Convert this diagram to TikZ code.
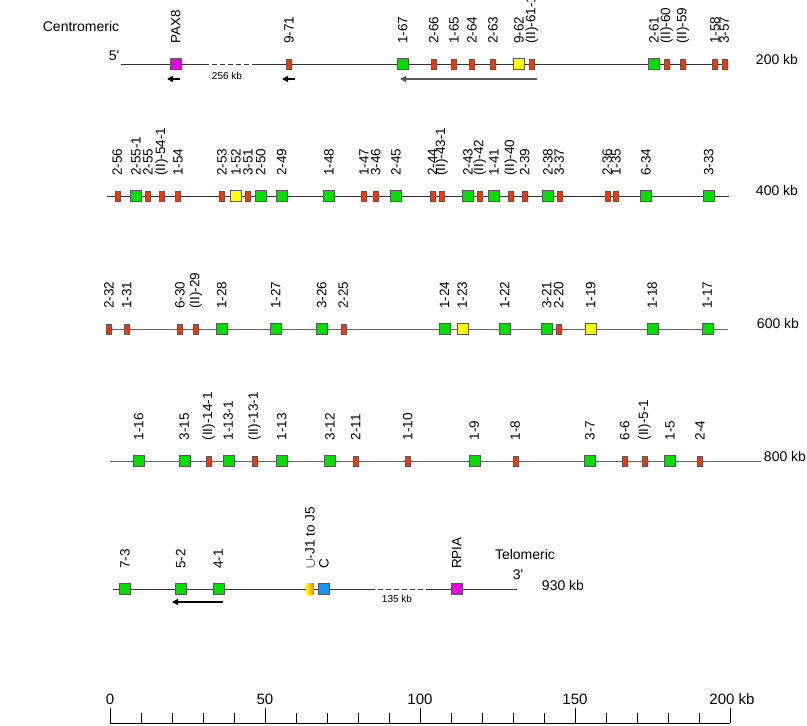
\documentclass[tikz,border=0pt]{standalone}
\usepackage{fontspec}
\setmainfont{Liberation Sans}
\usetikzlibrary{arrows.meta}
\definecolor{funcgreen}{RGB}{0,224,0}
\definecolor{pseudored}{RGB}{255,51,0}
\definecolor{orfyellow}{RGB}{255,255,0}
\definecolor{markmag}{RGB}{230,0,230}
\definecolor{cblue}{RGB}{20,150,255}
\definecolor{jorange}{RGB}{255,90,0}
\newcommand\labfont{\fontsize{13.5}{14}\selectfont}
\newcommand\sidefont{\fontsize{14}{15}\selectfont}
\newcommand\scalefont{\fontsize{15}{16}\selectfont}
\newcommand\gapfont{\fontsize{10}{11}\selectfont}
\tikzstyle{gene} = [draw=black!65, line width=0.5pt, inner sep=0pt, minimum width=11pt, minimum height=11pt]
\tikzstyle{func} = [gene, fill=funcgreen]
\tikzstyle{orf} = [gene, fill=orfyellow]
\tikzstyle{pseudo} = [gene, fill=pseudored, minimum width=5pt, minimum height=10pt]
\tikzstyle{marker} = [gene, fill=markmag]
\tikzstyle{cgene} = [gene, fill=cblue]
\tikzstyle{jseg} = [inner sep=0pt, minimum width=7.5pt, minimum height=11pt, left color=orfyellow, right color=jorange!80!orfyellow]
\tikzstyle{genelab} = [rotate=90, anchor=west, inner sep=0pt, font=\labfont]
\tikzstyle{side} = [inner sep=0pt, font=\sidefont]
\tikzstyle{chrom} = [draw=black!80, line width=0.9pt]
\tikzstyle{gap} = [chrom, dash pattern=on 5pt off 3pt]
\tikzstyle{dir} = [draw, line width=1.6pt, -{Triangle[length=6pt,width=6pt]}]

\begin{document}
\begin{tikzpicture}[x=1pt, y=1pt]
\useasboundingbox (0,0) rectangle (807,726);

% row 1
\node[side] (cen) at (81,699) {Centromeric};
\node[side] (five) at (114,670) {5\textquotesingle};
\node[side] (kb200) at (777,666) {200 kb};
\node[side, font=\gapfont] (gap1) at (227,650) {256 kb};
\coordinate (r1a) at (120.7,662);
\coordinate (r1b) at (204,662);
\coordinate (r1c) at (255,662);
\coordinate (r1d) at (727,662);
\draw[chrom] (r1a) -- (r1b);
\draw[gap] (r1b) -- (r1c);
\draw[chrom] (r1c) -- (r1d);
\foreach \x/\kind/\lab [count=\i] in {175.7/marker/PAX8, 289/pseudo/9-71, 402.7/func/1-67,
  433.7/pseudo/2-66, 454/pseudo/1-65, 472/pseudo/2-64, 493/pseudo/2-63, 519/orf/9-62,
  532/pseudo/{(II)-61-1}, 654/func/2-61, 666.7/pseudo/{(II)-60}, 683/pseudo/{(II)-59},
  715/pseudo/1-58, 724.3/pseudo/3-57}
{
  \node[\kind] (a\i) at (\x,662) {};
  \node[genelab] (la\i) at (\x,682) {\lab};
}
\coordinate (p1s) at (180,647);
\coordinate (p1e) at (167,647);
\coordinate (p2s) at (295,647);
\coordinate (p2e) at (282,647);
\coordinate (p3s) at (537,647);
\coordinate (p3e) at (400,647);
\draw[dir] (p1s) -- (p1e);
\draw[dir] (p2s) -- (p2e);
\draw[dir, draw=black!65, line width=1.3pt] (p3s) -- (p3e);

% row 2
\node[side] (kb400) at (777,535) {400 kb};
\coordinate (r2a) at (106.7,530);
\coordinate (r2b) at (729.3,530);
\draw[chrom] (r2a) -- (r2b);
\foreach \x/\kind/\lab [count=\i] in {117.3/pseudo/2-56, 136/func/2-55-1, 148/pseudo/2-55,
  161.7/pseudo/{(II)-54-1}, 178/pseudo/1-54, 222/pseudo/2-53, 236/orf/1-52, 248/pseudo/3-51,
  260.7/func/2-50, 281.7/func/2-49, 329/func/1-48, 364/pseudo/1-47, 375.7/pseudo/3-46,
  396/func/2-45, 432.3/pseudo/2-44, 441.7/pseudo/{(II)-43-1}, 468/func/2-43,
  480/pseudo/{(II)-42}, 494/func/1-41, 510.7/pseudo/{(II)-40}, 524.7/pseudo/2-39,
  548/func/2-38, 559.3/pseudo/3-37, 607.3/pseudo/2-36, 616/pseudo/1-35, 646/func/6-34,
  708.7/func/3-33}
{
  \node[\kind] (b\i) at (\x,530) {};
  \node[genelab] (lb\i) at (\x,550) {\lab};
}

% row 3
\node[side] (kb600) at (778,402) {600 kb};
\coordinate (r3a) at (106,397);
\coordinate (r3b) at (728,397);
\draw[chrom, draw=black!60] (r3a) -- (r3b);
\foreach \x/\kind/\lab [count=\i] in {109/pseudo/2-32, 126.7/pseudo/1-31, 180/pseudo/6-30,
  196/pseudo/{(II)-29}, 221.7/func/1-28, 275.7/func/1-27, 321.7/func/3-26, 343.3/pseudo/2-25,
  444.5/func/1-24, 462.3/orf/1-23, 504.7/func/1-22, 546.7/func/3-21, 558.7/pseudo/2-20,
  590.7/orf/1-19, 652.3/func/1-18, 707.3/func/1-17}
{
  \node[\kind] (c\i) at (\x,397) {};
  \node[genelab] (lc\i) at (\x,417) {\lab};
}

% row 4
\node[side] (kb800) at (785,270) {800 kb};
\coordinate (r4a) at (110,265);
\coordinate (r4b) at (761,265);
\draw[chrom, draw=black!60] (r4a) -- (r4b);
\foreach \x/\kind/\lab [count=\i] in {138.7/func/1-16, 184.3/func/3-15,
  208.7/pseudo/{(II)-14-1}, 228.3/func/1-13-1, 254.3/pseudo/{(II)-13-1}, 281.7/func/1-13,
  330/func/3-12, 355.7/pseudo/2-11, 407.7/pseudo/1-10, 474.3/func/1-9, 515.3/pseudo/1-8,
  590/func/3-7, 624.7/pseudo/6-6, 644.7/pseudo/{(II)-5-1}, 670/func/1-5, 700/pseudo/2-4}
{
  \node[\kind] (d\i) at (\x,265) {};
  \node[genelab] (ld\i) at (\x,285.5) {\lab};
}

% row 5
\node[side] (tel) at (525,172) {Telomeric};
\node[side] (three) at (518,151) {3\textquotesingle};
\node[side] (kb930) at (563,141) {930 kb};
\node[side, font=\gapfont] (gap2) at (397,127) {135 kb};
\coordinate (r5a) at (112.7,137);
\coordinate (r5b) at (370,137);
\coordinate (r5c) at (427,137);
\coordinate (r5d) at (516.7,137);
\draw[chrom] (r5a) -- (r5b);
\draw[gap] (r5b) -- (r5c);
\draw[chrom] (r5c) -- (r5d);
\foreach \x/\kind/\lab [count=\i] in {125/func/7-3, 180.7/func/5-2, 218.3/func/4-1,
  310/jseg/{\ensuremath{\cup}-J1 to J5}, 324/cgene/C, 456.7/marker/RPIA}
{
  \node[\kind] (e\i) at (\x,137) {};
  \node[genelab] (le\i) at (\x,157) {\lab};
}
\coordinate (p4s) at (223,124);
\coordinate (p4e) at (172,124);
\draw[dir] (p4s) -- (p4e);

% scale
\coordinate (sa) at (110,3);
\coordinate (sb) at (730,3);
\draw[chrom, draw=black] (sa) -- (sb);
\foreach \k in {0,10,...,200}
  \draw[chrom, draw=black] (110+3.1*\k,3) -- ++(0,10);
\foreach \k in {0,50,...,200}
  \draw[chrom, draw=black] (110+3.1*\k,3) -- ++(0,15);
\foreach \k in {0,50,100,150}
  \node[side, font=\scalefont, anchor=base] (s\k) at (110+3.1*\k,21) {\k};
\node[side, font=\scalefont, anchor=base] (s200) at (732,21) {200 kb};
\end{tikzpicture}
\end{document}
